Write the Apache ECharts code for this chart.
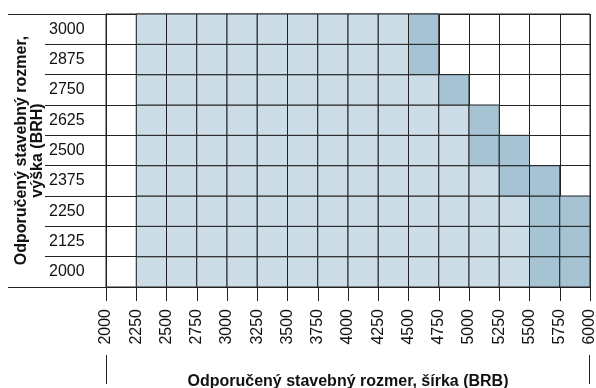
<!DOCTYPE html>
<html>
<head>
<meta charset="utf-8">
<script src="https://cdn.jsdelivr.net/npm/echarts@6/dist/echarts.min.js"></script>
<style>
html,body{margin:0;padding:0;background:#fff;}
#c{width:596px;height:388px;}
</style>
</head>
<body>
<div id="c"></div>
<script>
// ---- data ----
var heights = ['2000','2125','2250','2375','2500','2625','2750','2875','3000'];
var widthMin = 2000, widthMax = 6000, widthStep = 250;
var rangeStart = [2250,2250,2250,2250,2250,2250,2250,2250,2250];
var lightEnd   = [5500,5500,5500,5250,5000,5000,4750,4500,4500];
var darkEnd    = [6000,6000,6000,5750,5500,5250,5000,4750,4750];
var xName = 'Odporučený stavebný rozmer, šírka (BRB)';
var yName = 'Odporučený stavebný rozmer,\nvýška (BRH)';

// ---- build cells ----
var lightCells = [], darkCells = [];
for (var i = 0; i < heights.length; i++) {
  for (var w = rangeStart[i]; w < lightEnd[i]; w += widthStep) lightCells.push([w, i]);
  for (var w2 = lightEnd[i]; w2 < darkEnd[i]; w2 += widthStep) darkCells.push([w2, i]);
}

var FONT = '"Liberation Sans", Arial, Helvetica, sans-serif';
var LINE = '#222';
var G = {left:106, right:6, top:14, bottom:101};
var W = 596, H = 388;

function cellRender(color) {
  return function (params, api) {
    var x0 = api.value(0), yi = api.value(1);
    var p0 = api.coord([x0, yi]);
    var p1 = api.coord([x0 + widthStep, yi]);
    var h = api.size([0, 1])[1];
    return {
      type: 'rect',
      shape: {x: p0[0], y: p0[1] - h / 2, width: p1[0] - p0[0], height: h},
      style: {fill: color, stroke: LINE, lineWidth: 1}
    };
  };
}

var chart = echarts.init(document.getElementById('c'), null, {renderer: 'canvas'});
var gx0 = G.left, gx1 = W - G.right, gy0 = G.top, gy1 = H - G.bottom;
chart.setOption({
  animation: false,
  backgroundColor: '#fff',
  textStyle: {fontFamily: FONT},
  grid: {left: G.left, right: G.right, top: G.top, bottom: G.bottom, show: true,
         containLabel: false, outerBoundsMode: 'none',
         borderColor: LINE, borderWidth: 1, backgroundColor: 'transparent'},
  xAxis: {
    type: 'value', min: widthMin, max: widthMax, interval: widthStep,
    position: 'bottom',
    axisLine: {show: true, lineStyle: {color: LINE, width: 1}},
    axisTick: {show: true, length: 14, lineStyle: {color: LINE, width: 1}},
    axisLabel: {rotate: 90, margin: 22, fontSize: 16, color: '#111', fontFamily: FONT,
                showMinLabel: true, showMaxLabel: true,
                formatter: function (v) { return String(v); }},
    splitLine: {show: true, lineStyle: {color: LINE, width: 1}},
    name: xName, nameLocation: 'middle', nameGap: 87, nameMoveOverlap: false,
    nameTextStyle: {fontSize: 16, fontWeight: 'bold', color: '#111', fontFamily: FONT}
  },
  yAxis: {
    type: 'category', data: heights, boundaryGap: true,
    axisLine: {show: true, lineStyle: {color: LINE, width: 1}},
    axisTick: {show: true, length: 61, alignWithLabel: false, lineStyle: {color: LINE, width: 1}},
    axisLabel: {margin: 57, align: 'left', fontSize: 16, color: '#111', fontFamily: FONT},
    splitLine: {show: true, lineStyle: {color: LINE, width: 1}},
    name: yName, nameLocation: 'middle', nameGap: 60, nameRotate: 90, nameMoveOverlap: false,
    nameTextStyle: {fontSize: 16, fontWeight: 'bold', color: '#111', fontFamily: FONT, lineHeight: 16, align: 'center'}
  },
  series: [
    {type: 'custom', name: 'light', data: lightCells, renderItem: cellRender('#cddde7'),
     encode: {x: 0, y: 1}},
    {type: 'custom', name: 'dark', data: darkCells, renderItem: cellRender('#a6c3d4'),
     encode: {x: 0, y: 1}}
  ]
});
// extended frame lines and bracket lines at both ends of x axis name
var pMin = chart.convertToPixel({gridIndex: 0}, [widthMin, 0]);
var pMax = chart.convertToPixel({gridIndex: 0}, [widthMax, 0]);
chart.setOption({
  graphic: [
    {type: 'line', shape: {x1: 8, y1: gy0 + 0.5, x2: gx0, y2: gy0 + 0.5}, style: {stroke: LINE, lineWidth: 1}},
    {type: 'line', shape: {x1: 8, y1: gy1 + 0.5, x2: gx0, y2: gy1 + 0.5}, style: {stroke: LINE, lineWidth: 1}},
    {type: 'line', shape: {x1: Math.round(pMin[0]) + 0.5, y1: 355, x2: Math.round(pMin[0]) + 0.5, y2: 384}, style: {stroke: LINE, lineWidth: 1}},
    {type: 'line', shape: {x1: Math.round(pMax[0]) - 0.5, y1: 355, x2: Math.round(pMax[0]) - 0.5, y2: 384}, style: {stroke: LINE, lineWidth: 1}}
  ]
});
</script>
</body>
</html>
